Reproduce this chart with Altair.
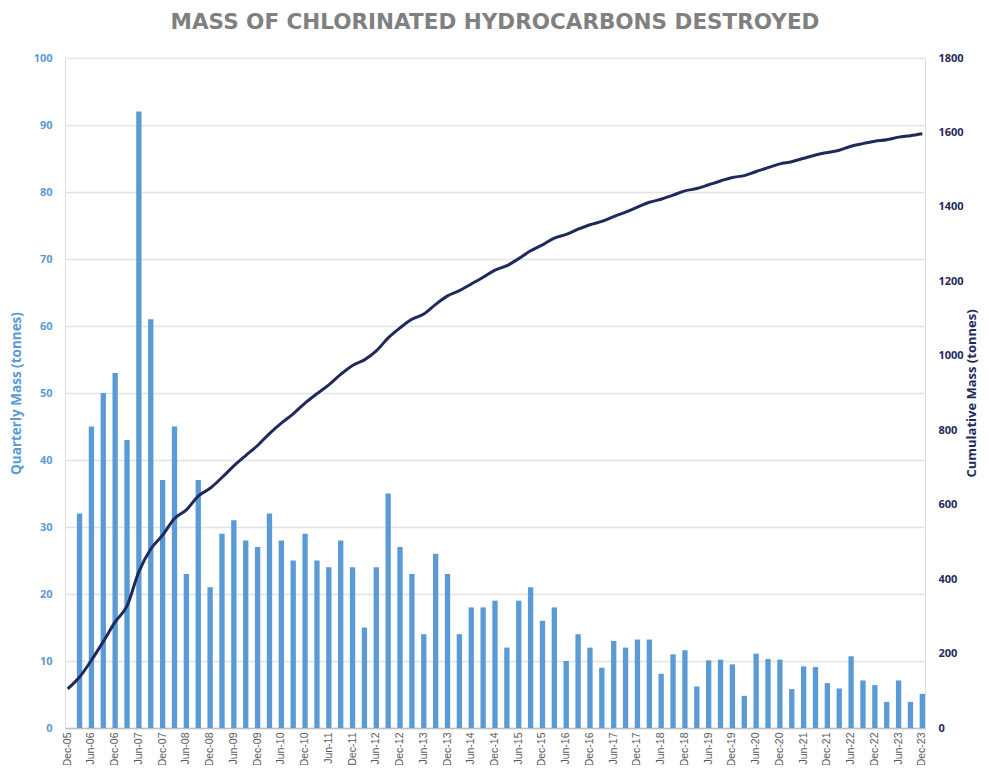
import altair as alt
import pandas as pd

quarters = [
    "Dec-05", "Mar-06", "Jun-06", "Sep-06", "Dec-06", "Mar-07", "Jun-07", "Sep-07",
    "Dec-07", "Mar-08", "Jun-08", "Sep-08", "Dec-08", "Mar-09", "Jun-09", "Sep-09",
    "Dec-09", "Mar-10", "Jun-10", "Sep-10", "Dec-10", "Mar-11", "Jun-11", "Sep-11",
    "Dec-11", "Mar-12", "Jun-12", "Sep-12", "Dec-12", "Mar-13", "Jun-13", "Sep-13",
    "Dec-13", "Mar-14", "Jun-14", "Sep-14", "Dec-14", "Mar-15", "Jun-15", "Sep-15",
    "Dec-15", "Mar-16", "Jun-16", "Sep-16", "Dec-16", "Mar-17", "Jun-17", "Sep-17",
    "Dec-17", "Mar-18", "Jun-18", "Sep-18", "Dec-18", "Mar-19", "Jun-19", "Sep-19",
    "Dec-19", "Mar-20", "Jun-20", "Sep-20", "Dec-20", "Mar-21", "Jun-21", "Sep-21",
    "Dec-21", "Mar-22", "Jun-22", "Sep-22", "Dec-22", "Mar-23", "Jun-23", "Sep-23",
    "Dec-23",
]

quarterly_mass = [
    None, 32, 45, 50, 53, 43, 92, 61,
    37, 45, 23, 37, 21, 29, 31, 28,
    27, 32, 28, 25, 29, 25, 24, 28,
    24, 15, 24, 35, 27, 23, 14, 26,
    23, 14, 18, 18, 19, 12, 19, 21,
    16, 18, 10, 14, 12, 9, 13, 12,
    13.2, 13.2, 8.1, 11, 11.6, 6.2, 10.1, 10.2,
    9.5, 4.8, 11.1, 10.3, 10.2, 5.8, 9.2, 9.1,
    6.7, 5.9, 10.7, 7.1, 6.4, 3.9, 7.1, 3.9,
    5.1,
]

cumulative_start = 105

left_ticks = [0, 10, 20, 30, 40, 50, 60, 70, 80, 90, 100]
right_ticks = [0, 200, 400, 600, 800, 1000, 1200, 1400, 1600, 1800]

df = pd.DataFrame({"quarter": quarters, "quarterly": quarterly_mass})
df["cumulative"] = cumulative_start + df["quarterly"].fillna(0).cumsum()

BLUE = "#5B9BD5"
NAVY = "#1F2A5C"
FONT = "Open Sans"

x_enc = alt.X(
    "quarter:O",
    sort=quarters,
    title=None,
    scale=alt.Scale(paddingInner=0.55, paddingOuter=0),
    axis=alt.Axis(
        values=quarters[::2],
        labelAngle=270,
        labelFontSize=10.5,
        labelColor="#595959",
        labelFont="Liberation Sans",
        labelPadding=4,
        ticks=False,
        domain=True,
        domainColor="#BFBFBF",
        domainWidth=1.5,
        grid=False,
    ),
)

bars = alt.Chart(df).mark_bar(color=BLUE).encode(
    x=x_enc,
    y=alt.Y(
        "quarterly:Q",
        scale=alt.Scale(domain=[0, 100], nice=False),
        axis=alt.Axis(
            orient="left",
            values=left_ticks,
            title="Quarterly Mass (tonnes)",
            titleColor=BLUE,
            titleFont=FONT,
            titleFontSize=13.5,
            titleFontWeight="bold",
            titlePadding=10,
            labelColor=BLUE,
            labelFont=FONT,
            labelFontSize=11,
            labelFontWeight="bold",
            labelPadding=13,
            ticks=False,
            domain=False,
            grid=True,
            gridColor="#E3E3E3",
            gridWidth=1.5,
        ),
    ),
)

line = alt.Chart(df).mark_line(
    color=NAVY, strokeWidth=3, interpolate="monotone"
).encode(
    x=x_enc,
    y=alt.Y(
        "cumulative:Q",
        scale=alt.Scale(domain=[0, 1800], nice=False),
        axis=alt.Axis(
            orient="right",
            values=right_ticks,
            format="d",
            title="Cumulative Mass (tonnes)",
            titleAngle=270,
            titleBaseline="top",
            titleColor=NAVY,
            titleFont=FONT,
            titleFontSize=13,
            titleFontWeight="bold",
            titlePadding=2,
            labelColor=NAVY,
            labelFont=FONT,
            labelFontSize=11,
            labelFontWeight="bold",
            labelPadding=13,
            ticks=False,
            domain=False,
            grid=False,
        ),
    ),
)

chart = (
    alt.layer(bars, line)
    .resolve_scale(y="independent")
    .properties(
        width=860,
        height=670,
        autosize=alt.AutoSizeParams(type="none"),
        padding={"left": 57, "top": 50, "right": 56, "bottom": 37},
        title=alt.TitleParams(
            "MASS OF CHLORINATED HYDROCARBONS DESTROYED",
            font="DejaVu Sans",
            fontSize=21.5,
            fontWeight="bold",
            color="#808080",
            anchor="middle",
            offset=19,
        ),
    )
    .configure_view(stroke=None)
    .configure(background="white")
)

chart.save("out.html", embed_options={"renderer": "svg", "actions": False})
